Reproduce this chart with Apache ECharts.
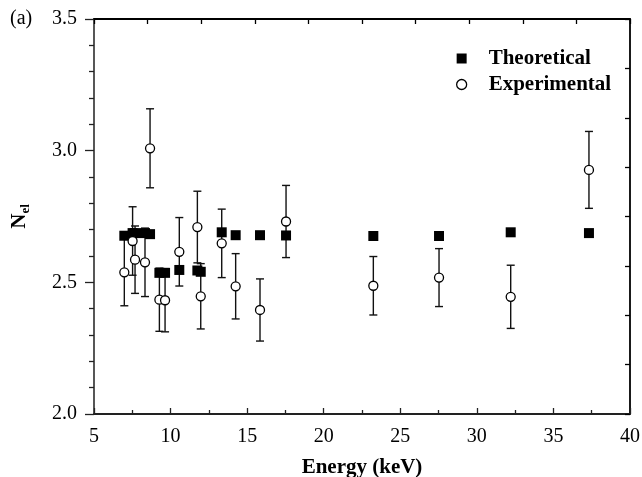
<!DOCTYPE html>
<html>
<head>
<meta charset="utf-8">
<script src="https://cdn.jsdelivr.net/npm/echarts@6/dist/echarts.min.js"></script>
<style>
  html, body { margin: 0; padding: 0; background: #fff; }
  #chart { width: 642px; height: 477px; }
</style>
</head>
<body>
<div id="chart"></div>
<script>
// energies (keV), shared by both series
var energy = [6.98, 7.52, 7.68, 8.33, 8.66, 9.27, 9.64, 10.57, 11.75, 11.97,
              13.34, 14.25, 15.84, 17.54, 23.24, 27.53, 32.21, 37.32];
var theoretical = [2.677, 2.687, 2.687, 2.687, 2.683, 2.536, 2.536, 2.547, 2.545, 2.540,
                   2.690, 2.679, 2.679, 2.678, 2.676, 2.676, 2.690, 2.687];
var experimental = [2.538, 2.657, 2.586, 2.576, 3.009, 2.434, 2.432, 2.616, 2.710, 2.447,
                    2.648, 2.485, 2.395, 2.731, 2.487, 2.518, 2.445, 2.927];
var expError = [0.127, 0.130, 0.128, 0.130, 0.150, 0.120, 0.120, 0.130, 0.136, 0.124,
                0.130, 0.124, 0.118, 0.137, 0.111, 0.110, 0.120, 0.146];
var xTicks = [5, 10, 15, 20, 25, 30, 35, 40];
var yTicks = [2.0, 2.5, 3.0, 3.5];

var serif = '"Liberation Serif", "DejaVu Serif", serif';

var chart = echarts.init(document.getElementById('chart'));

var theoData = energy.map(function (e, i) { return [e, theoretical[i]]; });
var expData = energy.map(function (e, i) { return [e, experimental[i]]; });
var errData = energy.map(function (e, i) { return [e, experimental[i], expError[i]]; });

const option = {
  animation: false,
  backgroundColor: '#fff',
  grid: { left: 94, right: 12, top: 19, bottom: 63, outerBoundsMode: 'none', containLabel: false },
  legend: {
    orient: 'vertical',
    left: 451,
    top: 43,
    itemGap: 5,
    itemWidth: 10,
    itemHeight: 10,
    textStyle: { fontFamily: serif, fontSize: 21, fontWeight: 'bold', color: '#000', padding: [0, 0, 0, 17] },
    data: [
      { name: 'Theoretical', icon: 'rect', itemStyle: { color: '#000' } },
      { name: 'Experimental', icon: 'circle', itemStyle: { color: '#fff', borderColor: '#000', borderWidth: 1.3 } }
    ]
  },
  xAxis: [
    {
      type: 'value',
      min: 5, max: 40, interval: 5,
      name: 'Energy (keV)',
      nameLocation: 'middle',
      nameGap: 43,
      nameTextStyle: { fontFamily: serif, fontSize: 21, fontWeight: 'bold', color: '#000' },
      axisLine: { lineStyle: { color: '#222', width: 1.8 } },
      axisTick: { inside: true, length: 6, lineStyle: { color: '#222', width: 1.3 } },
      minorTick: { show: true, splitNumber: 2, length: 4, lineStyle: { color: '#222', width: 1.3 } },
      axisLabel: {
        fontFamily: serif, fontSize: 20, color: '#000', margin: 13,
        customValues: xTicks
      },
      splitLine: { show: false }
    },
    {
      type: 'value',
      position: 'top',
      min: 0, max: 10, interval: 1,
      axisLine: { show: true, onZero: false, lineStyle: { color: '#000', width: 1.8 } },
      axisTick: { show: true, inside: true, length: 5, lineStyle: { color: '#000', width: 1.3 } },
      axisLabel: { show: false },
      splitLine: { show: false }
    }
  ],
  yAxis: [
    {
      type: 'value',
      min: 2, max: 3.5, interval: 0.5,
      name: '{n|N}{s|el}',
      nameLocation: 'middle',
      nameRotate: 90,
      nameGap: 62,
      nameTextStyle: {
        fontFamily: serif, fontWeight: 'bold', color: '#000',
        rich: {
          n: { fontFamily: serif, fontSize: 21, fontWeight: 'bold', color: '#000', lineHeight: 24 },
          s: { fontFamily: serif, fontSize: 13, fontWeight: 'bold', color: '#000', verticalAlign: 'bottom', lineHeight: 15 }
        }
      },
      axisLine: { show: true, lineStyle: { color: '#444', width: 1.8 } },
      axisTick: { inside: false, length: 9, lineStyle: { color: '#222', width: 1.3 } },
      minorTick: { show: true, splitNumber: 5, length: 5, lineStyle: { color: '#222', width: 1.3 } },
      axisLabel: {
        fontFamily: serif, fontSize: 20, color: '#000', margin: 17,
        customValues: yTicks,
        formatter: function (v) { return v.toFixed(1); }
      },
      splitLine: { show: false }
    },
    {
      type: 'value',
      position: 'right',
      min: 0, max: 8, interval: 1,
      axisLine: { show: true, onZero: false, lineStyle: { color: '#000', width: 1.8 } },
      axisTick: { show: true, inside: true, length: 5, lineStyle: { color: '#000', width: 1.3 } },
      axisLabel: { show: false },
      splitLine: { show: false }
    }
  ],
  graphic: [
    {
      type: 'text',
      left: 10, top: 9,
      style: { text: '(a)', font: '20px ' + serif, fill: '#000' }
    }
  ],
  series: [
    {
      name: 'errors',
      type: 'custom',
      xAxisIndex: 0, yAxisIndex: 0,
      z: 1,
      silent: true,
      renderItem: function (params, api) {
        var e = api.value(0), n = api.value(1), d = api.value(2);
        var lo = api.coord([e, n - d]);
        var hi = api.coord([e, n + d]);
        var cap = 4;
        var st = { stroke: '#111', lineWidth: 1.4 };
        return {
          type: 'group',
          children: [
            { type: 'line', shape: { x1: lo[0], y1: lo[1], x2: hi[0], y2: hi[1] }, style: st },
            { type: 'line', shape: { x1: lo[0] - cap, y1: lo[1], x2: lo[0] + cap, y2: lo[1] }, style: st },
            { type: 'line', shape: { x1: hi[0] - cap, y1: hi[1], x2: hi[0] + cap, y2: hi[1] }, style: st }
          ]
        };
      },
      encode: { x: 0, y: 1 },
      data: errData
    },
    {
      name: 'Theoretical',
      type: 'scatter',
      xAxisIndex: 0, yAxisIndex: 0,
      z: 2,
      symbol: 'rect',
      symbolSize: 10,
      itemStyle: { color: '#000', opacity: 1 },
      data: theoData
    },
    {
      name: 'Experimental',
      type: 'scatter',
      xAxisIndex: 0, yAxisIndex: 0,
      z: 3,
      symbol: 'circle',
      symbolSize: 9,
      itemStyle: { color: '#fff', borderColor: '#000', borderWidth: 1.3, opacity: 1 },
      data: expData
    }
  ]
};

chart.setOption(option);
</script>
</body>
</html>
